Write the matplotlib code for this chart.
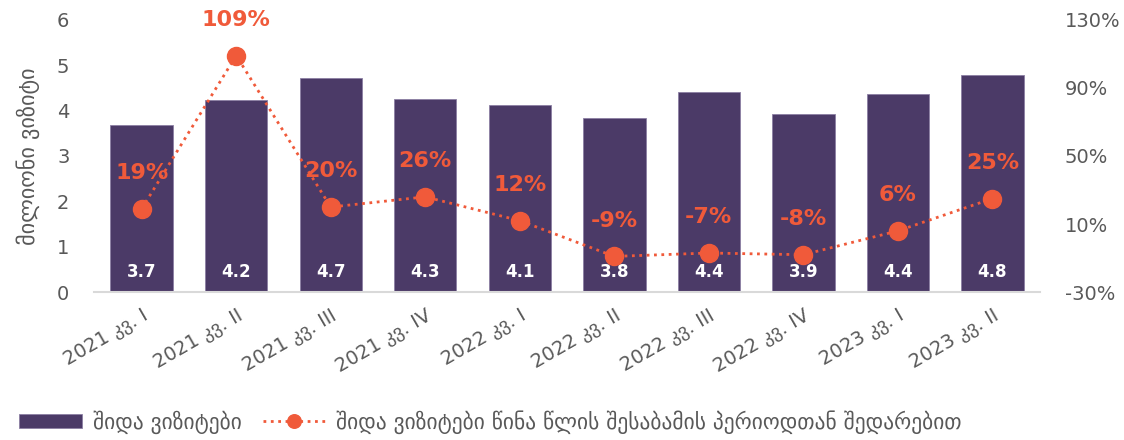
import matplotlib.pyplot as plt
from matplotlib.ticker import FuncFormatter

categories = ['2021 კვ. I', '2021 კვ. II', '2021 კვ. III', '2021 კვ. IV',
              '2022 კვ. I', '2022 კვ. II', '2022 კვ. III', '2022 კვ. IV',
              '2023 კვ. I', '2023 კვ. II']
visits = [3.69, 4.24, 4.72, 4.26, 4.13, 3.84, 4.40, 3.93, 4.36, 4.79]
growth = [19, 109, 20, 26, 12, -9, -7, -8, 6, 25]

bar_color = '#4B3A67'
line_color = '#F05A3A'
grey = '#595959'

plt.rcParams['font.family'] = ['DejaVu Sans']
fig, ax = plt.subplots(figsize=(11.24, 4.4), dpi=100)
fig.subplots_adjust(left=0.084, right=0.925, top=0.955, bottom=0.336)

x = list(range(len(categories)))
bars = ax.bar(x, visits, width=0.66, color=bar_color, edgecolor='#8C7FA3', linewidth=0.6,
              label='შიდა ვიზიტები', zorder=2)
for xi, v in zip(x, visits):
    ax.text(xi, 0.45, f'{v:.1f}', ha='center', va='center', color='white',
            fontsize=12, fontweight='bold', zorder=4)

ax.set_ylim(0, 6)
ax.set_xlim(-0.5, len(categories) - 0.5)
ax.set_yticks(range(0, 7))
ax.set_ylabel('მილიონი ვიზიტი', color=grey, fontsize=16, labelpad=12)
ax.set_xticks(x)
ax.set_xticklabels(categories, rotation=30, ha='right', rotation_mode='anchor')
ax.tick_params(axis='both', colors=grey, labelsize=14, length=0)
ax.tick_params(axis='y', pad=18)
ax.tick_params(axis='x', pad=10)
for s in ['top', 'right', 'left']:
    ax.spines[s].set_visible(False)
ax.spines['bottom'].set_color('#D9D9D9')
ax.spines['bottom'].set_linewidth(1.5)

ax2 = ax.twinx()
line, = ax2.plot(x, growth, color=line_color, linestyle=':', linewidth=2,
                 marker='o', markersize=13, zorder=5,
                 label='შიდა ვიზიტები წინა წლის შესაბამის პერიოდთან შედარებით')
for xi, g in zip(x, growth):
    ax2.text(xi, g + 21, f'{g}%', ha='center', va='center', color=line_color,
             fontsize=16, fontweight='bold', zorder=6)
ax2.set_ylim(-30, 130)
ax2.set_yticks([-30, 10, 50, 90, 130])
ax2.yaxis.set_major_formatter(FuncFormatter(lambda v, p: f'{v:.0f}%'))
ax2.tick_params(axis='y', colors=grey, labelsize=14, length=0, pad=18)
for s in ['top', 'right', 'left', 'bottom']:
    ax2.spines[s].set_visible(False)

leg = fig.legend([bars, line], [bars.get_label(), line.get_label()], loc='lower left',
                 bbox_to_anchor=(0.0, -0.03), ncol=2, frameon=False, fontsize=15.5,
                 labelcolor=grey, handlelength=2.9, handleheight=0.6,
                 handletextpad=0.5, columnspacing=1.0, markerscale=0.75)

fig.savefig('out.png', dpi=100)
